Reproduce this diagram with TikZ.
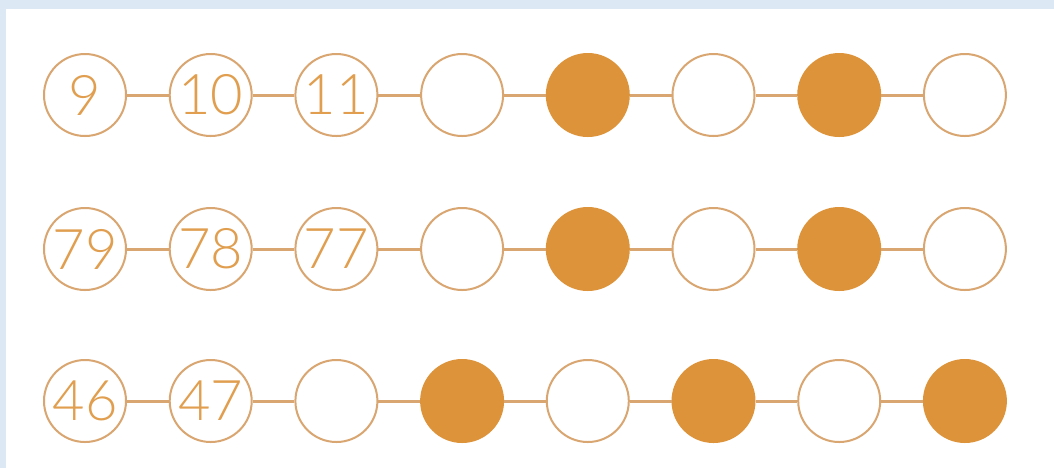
\documentclass[tikz,border=0pt]{standalone}
\usepackage{fontspec}
\newfontfamily\numfont{Lato Light}
\definecolor{beadorange}{HTML}{DD933A}
\definecolor{beadline}{HTML}{D9A671}
\definecolor{pagebg}{HTML}{DCE8F4}
\tikzset{
  bead/.style={circle,draw=beadline,line width=1pt,minimum size=41pt,inner sep=0pt,
    font=\numfont\fontsize{28}{28}\selectfont,text=beadorange!90!white},
  fullbead/.style={bead,fill=beadorange,draw=beadorange},
  link/.style={draw=beadline,line width=1.5pt}
}
\begin{document}
\begin{tikzpicture}[x=0.5pt,y=-0.5pt]
  \fill[pagebg](0,0) rectangle (1054,468);
  \fill[white](6,9) rectangle (1054,468);
  \useasboundingbox (0,0) rectangle (1054,468);
  % first row
  \foreach \i/\t/\s in {1/9/bead,2/10/bead,3/11/bead,4//bead,5//fullbead,6//bead,7//fullbead,8//bead}
    \node[\s] (a\i) at ({85+125.7*(\i-1)},95) {\t};
  % second row
  \foreach \i/\t/\s in {1/79/bead,2/78/bead,3/77/bead,4//bead,5//fullbead,6//bead,7//fullbead,8//bead}
    \node[\s] (b\i) at ({85+125.7*(\i-1)},249) {\t};
  % third row
  \foreach \i/\t/\s in {1/46/bead,2/47/bead,3//bead,4//fullbead,5//bead,6//fullbead,7//bead,8//fullbead}
    \node[\s] (c\i) at ({85+125.7*(\i-1)},401) {\t};
  % links between beads
  \foreach \r in {a,b,c}{
    \foreach \i [count=\j from 2] in {1,...,7}{
      \path[link] (\r\i) -- (\r\j);
    }
  }
\end{tikzpicture}
\end{document}
